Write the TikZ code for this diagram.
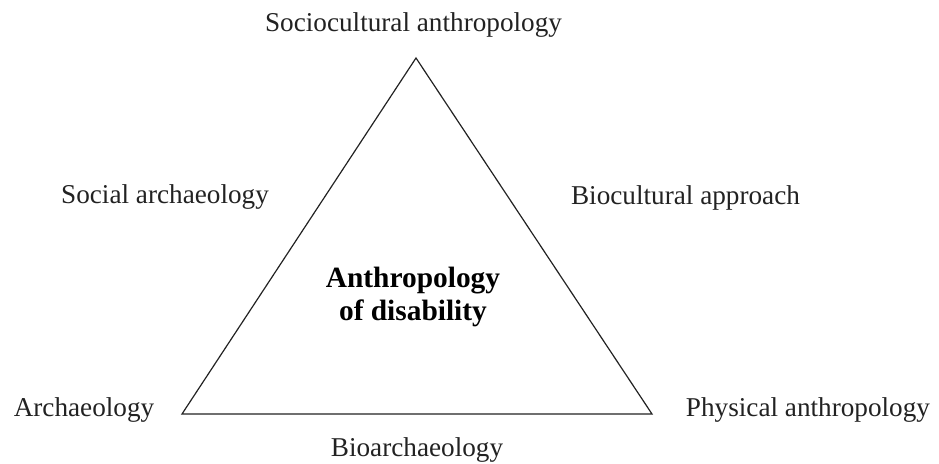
\documentclass[tikz,border=0pt]{standalone}
\usepackage{fontspec}
\setmainfont{Liberation Serif}

\definecolor{InkGrey}{HTML}{222222}

\begin{document}
\begin{tikzpicture}[x=0.5pt, y=-0.5pt,
        lbl/.style={anchor=base, inner sep=0pt, text=InkGrey, font=\fontsize{13.6}{16}\selectfont},
        core/.style={align=center, inner sep=0pt, text=black, font=\fontsize{14.7}{16.5}\selectfont\bfseries}]
        \useasboundingbox (0,0) rectangle (939,464);

        \coordinate (apex) at (416,58);
        \coordinate (left) at (182,414);
        \coordinate (right) at (652,414);

        \draw[InkGrey, line width=0.6pt, line join=miter] (apex) -- (left) -- (right) -- cycle;

        \node[lbl] (socio) at (413.5,32) {Sociocultural anthropology};
        \node[lbl] (socarch) at (165,204) {Social archaeology};
        \node[lbl] (biocult) at (685.5,205) {Biocultural approach};
        \node[lbl] (arch) at (84,417) {Archaeology};
        \node[lbl] (phys) at (808,417) {Physical anthropology};
        \node[lbl] (bioarch) at (417,457) {Bioarchaeology};

        \node[core] (disab) at (413,296.5) {Anthropology\\of disability};
    \end{tikzpicture}
\end{document}
